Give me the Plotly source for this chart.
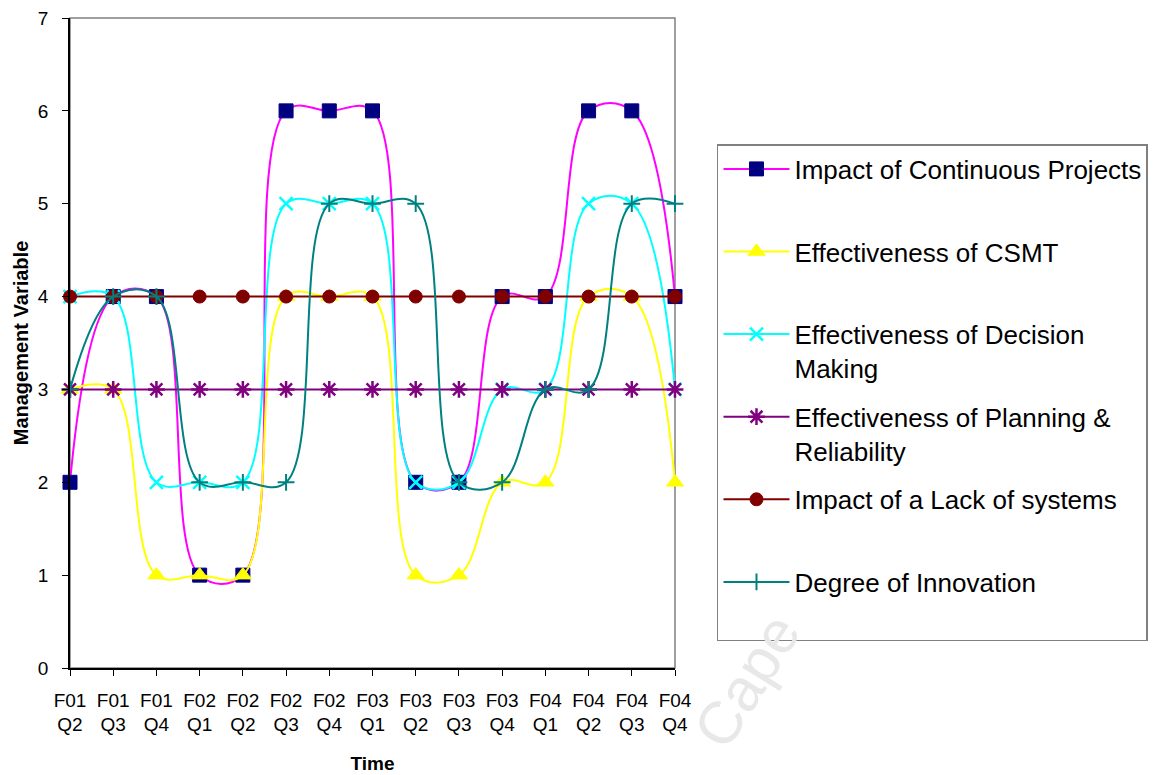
import plotly.graph_objects as go

categories = ["F01<br>Q2", "F01<br>Q3", "F01<br>Q4", "F02<br>Q1", "F02<br>Q2", "F02<br>Q3",
              "F02<br>Q4", "F03<br>Q1", "F03<br>Q2", "F03<br>Q3", "F03<br>Q4", "F04<br>Q1",
              "F04<br>Q2", "F04<br>Q3", "F04<br>Q4"]

continuous_projects = [2, 4, 4, 1, 1, 6, 6, 6, 2, 2, 4, 4, 6, 6, 4]
csmt = [3, 3, 1, 1, 1, 4, 4, 4, 1, 1, 2, 2, 4, 4, 2]
decision_making = [4, 4, 2, 2, 2, 5, 5, 5, 2, 2, 3, 3, 5, 5, 3]
planning = [3, 3, 3, 3, 3, 3, 3, 3, 3, 3, 3, 3, 3, 3, 3]
lack_of_systems = [4, 4, 4, 4, 4, 4, 4, 4, 4, 4, 4, 4, 4, 4, 4]
innovation = [3, 4, 4, 2, 2, 2, 5, 5, 5, 2, 2, 3, 3, 5, 5]

series_names = ["Impact of Continuous Projects", "Effectiveness of CSMT",
                "Effectiveness of Decision<br>Making",
                "Effectiveness of Planning &<br>Reliability",
                "Impact of a Lack of systems", "Degree of Innovation"]

FONT = "Liberation Sans, Arial, sans-serif"

styles = [
    dict(line="#FF00FF", symbol="square", mcolor="#000080", size=14, lw=1),
    dict(line="#FFFF00", symbol="triangle-up", mcolor="#FFFF00", size=15, lw=1),
    dict(line="#00FFFF", symbol="x-thin-open", mcolor="#00FFFF", size=13, lw=2.5),
    dict(line="#800080", symbol="asterisk-open", mcolor="#800080", size=14, lw=2.5),
    dict(line="#800000", symbol="circle", mcolor="#800000", size=13, lw=1),
    dict(line="#008080", symbol="cross-thin-open", mcolor="#008080", size=12, lw=2),
]

data = [continuous_projects, csmt, decision_making, planning, lack_of_systems, innovation]

fig = go.Figure()
for i, (name, vals, st) in enumerate(zip(series_names, data, styles)):
    label = name if "<br>" in name else name + "<br> "
    fig.add_trace(go.Scatter(
        x=categories, y=vals, name=label, mode="lines+markers",
        line=dict(color=st["line"], width=2, shape="spline", smoothing=1.1),
        marker=dict(symbol=st["symbol"], color=st["mcolor"], size=st["size"],
                    line=dict(color=st["mcolor"], width=st["lw"])),
        cliponaxis=False, legendgroup=str(i),
    ))

fig.add_shape(type="rect", xref="x domain", yref="y domain", x0=0, x1=1, y0=0, y1=1,
              line=dict(color="#808080", width=1.5), layer="below")

fig.add_annotation(text="Cape", xref="paper", yref="paper", x=1.118, y=-0.02,
                   xanchor="center", yanchor="middle",
                   showarrow=False, textangle=-58,
                   font=dict(family=FONT, size=60, color="#E8E8E8"))

fig.update_layout(
    width=1151, height=767,
    margin=dict(l=62, r=484, t=10, b=107, autoexpand=False),
    paper_bgcolor="white", plot_bgcolor="white",
    font=dict(family=FONT, color="black"),
    showlegend=True,
    legend=dict(x=1.0694, xanchor="left", y=1.0 - 126 / 650, yanchor="top",
                bordercolor="#808080", borderwidth=1.5,
                font=dict(family=FONT, size=26, color="black"),
                valign="top", tracegroupgap=12, traceorder="grouped",
                itemwidth=66),
    xaxis=dict(type="category", range=[0, 14], showline=True, linecolor="black",
               linewidth=1.5, ticks="outside", ticklen=6, tickcolor="black",
               showgrid=False, zeroline=False, tickangle=0, ticklabelstandoff=8,
               automargin=False,
               tickfont=dict(family=FONT, size=19, color="black"),
               title=dict(text="<b>Time</b>", font=dict(family=FONT, size=19),
                          standoff=22)),
    yaxis=dict(range=[0, 7], dtick=1, showline=True, linecolor="black", linewidth=1.5,
               ticks="outside", ticklen=6, tickcolor="black", showgrid=False,
               zeroline=False, ticklabelstandoff=10, ticklabeloverflow="allow",
               automargin=False,
               tickfont=dict(family=FONT, size=19, color="black"),
               title=dict(text="<b>Management Variable</b>",
                          font=dict(family=FONT, size=20), standoff=4)),
)

fig.write_html("out.html")
